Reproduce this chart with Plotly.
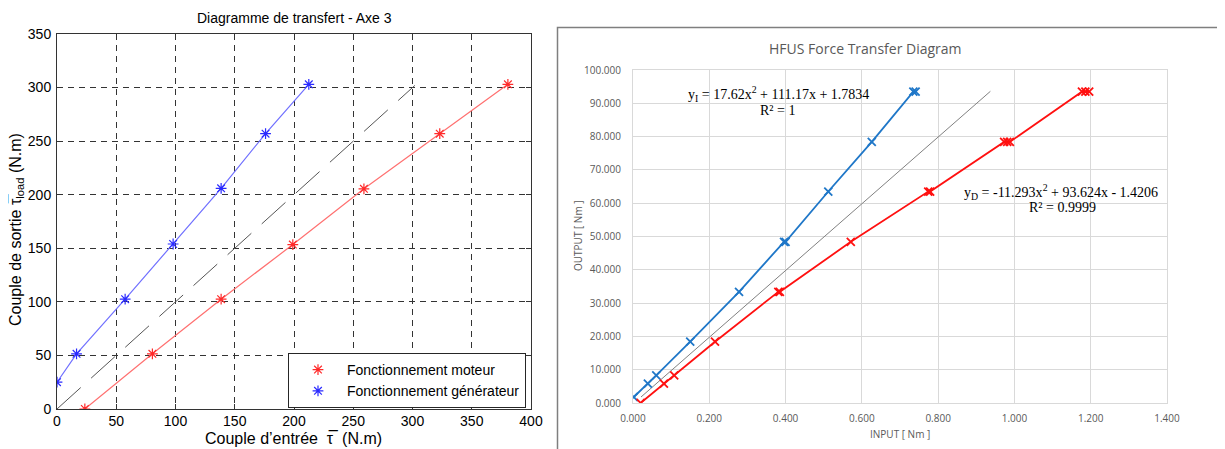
import plotly.graph_objects as go

# Page is shown with the browser's default 8px body margin, so the figure is
# sized to the visible area and reference pixel positions are shifted by OFF.
OFF = 8
W, H = 1225 - OFF, 449 - OFF

# ---------------- Left chart data: Diagramme de transfert - Axe 3 ----------------
moteur_in = [23.5, 80.5, 138.5, 199.0, 259.0, 323.0, 380.5]
moteur_out = [0.0, 51.5, 102.5, 153.5, 205.5, 257.0, 303.0]
gen_in = [0.0, 16.5, 57.5, 98.0, 138.5, 176.0, 212.5]
gen_out = [25.0, 51.5, 102.5, 154.0, 206.0, 257.0, 303.0]
ideal_in = [0, 302]
ideal_out = [0, 302]

# ---------------- Right chart data: HFUS Force Transfer Diagram ----------------
inc_in = [0.002, 0.039, 0.061, 0.150, 0.278, 0.396, 0.400, 0.512, 0.626, 0.735, 0.741]
inc_out = [1.8, 5.8, 8.3, 18.4, 33.4, 48.4, 48.4, 63.5, 78.4, 93.5, 93.5]
dec_in = [0.020, 0.081, 0.108, 0.215, 0.381, 0.385, 0.571, 0.774, 0.779, 0.973, 0.981, 0.988, 1.177, 1.186, 1.196]
dec_out = [0.0, 5.8, 8.3, 18.4, 33.4, 33.4, 48.4, 63.5, 63.5, 78.4, 78.4, 78.4, 93.5, 93.5, 93.5]
ref_in = [0.021, 0.937]
ref_out = [1.8, 93.6]

eq_inc = "y<sub>I</sub> = 17.62x<sup>2</sup> + 111.17x + 1.7834"
r2_inc = "R² = 1"
eq_dec = "y<sub>D</sub> = -11.293x<sup>2</sup> + 93.624x - 1.4206"
r2_dec = "R² = 0.9999"


def px(x):
    return (x - OFF) / W


def py(y):
    return 1 - (y - OFF) / H


fig = go.Figure()

# Left chart traces
fig.add_trace(go.Scatter(x=ideal_in, y=ideal_out, mode="lines", showlegend=False,
                         line=dict(color="#555555", width=1, dash="32px,14px"),
                         xaxis="x", yaxis="y", hoverinfo="skip"))
fig.add_trace(go.Scatter(x=moteur_in, y=moteur_out, mode="lines", showlegend=False,
                         line=dict(color="#ff7070", width=1.2), xaxis="x", yaxis="y"))
fig.add_trace(go.Scatter(x=gen_in, y=gen_out, mode="lines", showlegend=False,
                         line=dict(color="#7070ff", width=1.2), xaxis="x", yaxis="y"))
fig.add_trace(go.Scatter(x=moteur_in, y=moteur_out, mode="markers", name="Fonctionnement moteur",
                         marker=dict(symbol="asterisk", size=9, color="#ff2a2a",
                                     line=dict(color="#ff2a2a", width=1.2)),
                         xaxis="x", yaxis="y"))
fig.add_trace(go.Scatter(x=gen_in, y=gen_out, mode="markers", name="Fonctionnement générateur",
                         marker=dict(symbol="asterisk", size=9, color="#2a2aff",
                                     line=dict(color="#2a2aff", width=1.2)),
                         xaxis="x", yaxis="y"))

# Right chart traces
fig.add_trace(go.Scatter(x=ref_in, y=ref_out, mode="lines", showlegend=False,
                         line=dict(color="#808080", width=1), xaxis="x2", yaxis="y2"))
fig.add_trace(go.Scatter(x=inc_in, y=inc_out, mode="lines+markers", showlegend=False,
                         line=dict(color="#1f77c8", width=1.8),
                         marker=dict(symbol="x-thin", size=8, color="#1f77c8",
                                     line=dict(color="#1f77c8", width=1.8)),
                         xaxis="x2", yaxis="y2"))
fig.add_trace(go.Scatter(x=dec_in, y=dec_out, mode="lines+markers", showlegend=False,
                         line=dict(color="#ff1010", width=1.8),
                         marker=dict(symbol="x-thin", size=8, color="#ff1010",
                                     line=dict(color="#ff1010", width=1.8)),
                         xaxis="x2", yaxis="y2"))

left_font = dict(family="Liberation Sans, Arial, sans-serif", size=14, color="#000000")
right_font = dict(family="Open Sans, sans-serif", size=10, color="#595959")

fig.update_layout(
    width=W, height=H,
    margin=dict(l=0, r=0, t=0, b=0, pad=0),
    paper_bgcolor="white", plot_bgcolor="white",
    showlegend=True,
    legend=dict(x=px(288), y=py(353), xanchor="left", yanchor="top",
                bordercolor="#262626", borderwidth=1, bgcolor="white",
                font=dict(family="Liberation Sans, Arial, sans-serif", size=14, color="#000"),
                itemwidth=48, tracegroupgap=0),
    xaxis=dict(domain=[px(57), px(531)], range=[0, 400], dtick=50, tick0=0,
               showgrid=True, gridcolor="#333333", griddash="6px,5px", gridwidth=1,
               zeroline=False, showline=True, linecolor="#333333", linewidth=1,
               mirror="ticks", ticks="inside", ticklen=5, tickcolor="#333333",
               tickfont=left_font, anchor="y", fixedrange=True, ticklabelstandoff=-1,
               automargin=False),
    yaxis=dict(domain=[py(409), py(34)], range=[0, 350], dtick=50, tick0=0,
               showgrid=True, gridcolor="#333333", griddash="6px,5px", gridwidth=1,
               zeroline=False, showline=True, linecolor="#333333", linewidth=1,
               mirror="ticks", ticks="inside", ticklen=5, tickcolor="#333333",
               tickfont=left_font, anchor="x", fixedrange=True, ticklabelstandoff=2,
               automargin=False),
    xaxis2=dict(domain=[px(633), px(1167)], range=[0, 1.4], dtick=0.2, tick0=0,
                tickformat=".3f", showgrid=True, gridcolor="#d9d9d9", gridwidth=1,
                zeroline=False, showline=True, linecolor="#d9d9d9", mirror=True,
                ticks="", tickfont=right_font, anchor="y2", ticklabelstandoff=6,
                automargin=False),
    yaxis2=dict(domain=[py(403), py(70)], range=[0, 100], dtick=10, tick0=0,
                tickformat=".3f", showgrid=True, gridcolor="#d9d9d9", gridwidth=1,
                zeroline=False, showline=True, linecolor="#d9d9d9", mirror=True,
                ticks="", tickfont=right_font, anchor="x2", ticklabelstandoff=9,
                automargin=False),
)

annotations = [
    # Left chart texts
    dict(text="Diagramme de transfert - Axe 3", x=px(294), y=py(18),
         font=dict(family="Liberation Sans, Arial, sans-serif", size=14, color="#000")),
    dict(text="Couple d’entrée  τ̅  (N.m)", x=px(293), y=py(438),
         font=dict(family="Liberation Sans, Arial, sans-serif", size=16, color="#000")),
    dict(text="Couple de sortie τ̅<sub>load</sub> (N.m)", x=px(16), y=py(230), textangle=-90,
         font=dict(family="Liberation Sans, Arial, sans-serif", size=16, color="#000")),
    # Right chart texts
    dict(text="HFUS Force Transfer Diagram", x=px(865), y=py(49),
         font=dict(family="Open Sans, sans-serif", size=14, color="#595959")),
    dict(text="INPUT [ Nm ]", x=px(900), y=py(434),
         font=dict(family="Open Sans, sans-serif", size=10, color="#595959")),
    dict(text="OUTPUT [ Nm ]", x=px(578), y=py(236), textangle=-90,
         font=dict(family="Open Sans, sans-serif", size=10, color="#595959")),
    dict(text=eq_inc, x=px(778), y=py(94),
         font=dict(family="Liberation Serif, Times New Roman, serif", size=14, color="#000")),
    dict(text=r2_inc, x=px(777), y=py(110),
         font=dict(family="Liberation Serif, Times New Roman, serif", size=14, color="#000")),
    dict(text=eq_dec, x=px(1061), y=py(192),
         font=dict(family="Liberation Serif, Times New Roman, serif", size=14, color="#000")),
    dict(text=r2_dec, x=px(1062), y=py(207),
         font=dict(family="Liberation Serif, Times New Roman, serif", size=14, color="#000")),
]
for a in annotations:
    a.update(xref="paper", yref="paper", showarrow=False, xanchor="center", yanchor="middle")
fig.update_layout(annotations=annotations)

# Border of the right chart area
fig.add_shape(type="rect", xref="paper", yref="paper",
              x0=px(557.5), x1=px(1223), y0=py(460), y1=py(27.5),
              line=dict(color="#7f7f7f", width=1.5), fillcolor="rgba(0,0,0,0)", layer="below")

fig.write_html("out.html")
